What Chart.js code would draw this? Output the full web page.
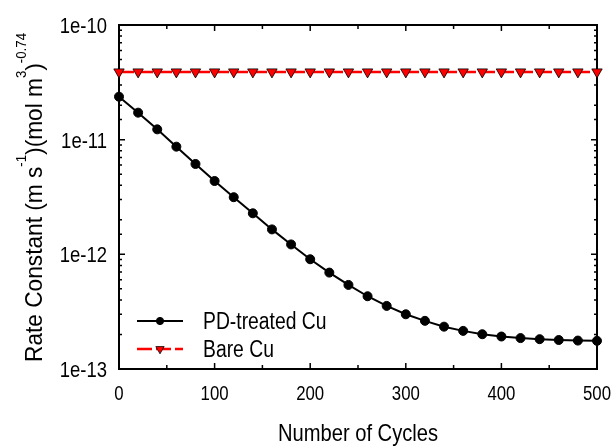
<!DOCTYPE html>
<html>
<head>
<meta charset="utf-8">
<script src="https://cdn.jsdelivr.net/npm/chart.js@4/dist/chart.umd.min.js"></script>
<style>
  html, body { margin: 0; padding: 0; background: #fff; }
  #wrap { width: 611px; height: 446px; }
</style>
</head>
<body>
<div id="wrap"><canvas id="c" width="611" height="446"></canvas></div>
<script>
// Cycle numbers where the rate constant was evaluated
const cycles = [0, 20, 40, 60, 80, 100, 120, 140, 160, 180, 200, 220, 240,
                260, 280, 300, 320, 340, 360, 380, 400, 420, 440, 460, 480, 500];

// Rate constant for the PD-treated copper surface
const pdTreated = [2.37e-11, 1.72e-11, 1.23e-11, 8.69e-12, 6.14e-12, 4.36e-12,
                   3.15e-12, 2.28e-12, 1.65e-12, 1.22e-12, 9.06e-13, 6.93e-13,
                   5.41e-13, 4.31e-13, 3.55e-13, 3.00e-13, 2.63e-13, 2.34e-13,
                   2.15e-13, 2.01e-13, 1.92e-13, 1.86e-13, 1.82e-13, 1.79e-13,
                   1.77e-13, 1.76e-13];

// Rate constant for bare copper (constant over cycling)
const bareCu = [3.9e-11, 3.9e-11, 3.9e-11, 3.9e-11, 3.9e-11, 3.9e-11, 3.9e-11,
                3.9e-11, 3.9e-11, 3.9e-11, 3.9e-11, 3.9e-11, 3.9e-11, 3.9e-11,
                3.9e-11, 3.9e-11, 3.9e-11, 3.9e-11, 3.9e-11, 3.9e-11, 3.9e-11,
                3.9e-11, 3.9e-11, 3.9e-11, 3.9e-11, 3.9e-11];

const seriesNames = ['PD-treated Cu', 'Bare Cu'];
const xLabelValues = [0, 100, 200, 300, 400, 500];
const yLabelValues = [1e-13, 1e-12, 1e-11, 1e-10];

const FONT = '"Liberation Sans", Arial, sans-serif';
const NARROW = 0.84;   // horizontal squeeze giving a narrow-sans look

function isDecade(v) {
  const l = Math.log10(v);
  return Math.abs(l - Math.round(l)) < 1e-6;
}
function xLabel(v) { return xLabelValues.includes(v) ? String(v) : ''; }
function yLabel(v) {
  const hit = yLabelValues.find(d => Math.abs(v - d) / d < 1e-6);
  return hit ? '1e' + Math.round(Math.log10(hit)) : '';
}

// Draw text squeezed horizontally around its anchor point
function narrowText(ctx, txt, x, y, align, size) {
  ctx.save();
  ctx.font = size + 'px ' + FONT;
  ctx.textAlign = align;
  ctx.textBaseline = 'alphabetic';
  ctx.translate(x, y);
  ctx.scale(NARROW, 1);
  ctx.fillText(txt, 0, 0);
  ctx.restore();
}

// Boxed frame with inward tick marks on all four sides, plus tick labels
const frameAndTicks = {
  id: 'frameAndTicks',
  beforeDatasetsDraw(chart) {
    const { ctx, chartArea: a, scales: { x, y } } = chart;
    ctx.save();
    ctx.strokeStyle = '#000';
    ctx.lineWidth = 1.5;
    ctx.beginPath();
    x.ticks.forEach(t => {
      const px = x.getPixelForValue(t.value);
      const len = t.value % 100 === 0 ? 6 : 4;
      ctx.moveTo(px, a.bottom); ctx.lineTo(px, a.bottom - len);
      ctx.moveTo(px, a.top); ctx.lineTo(px, a.top + len);
    });
    y.ticks.forEach(t => {
      const py = y.getPixelForValue(t.value);
      const len = isDecade(t.value) ? 6 : 3;
      ctx.moveTo(a.left, py); ctx.lineTo(a.left + len, py);
      ctx.moveTo(a.right, py); ctx.lineTo(a.right - len, py);
    });
    ctx.stroke();
    ctx.lineWidth = 2;
    ctx.strokeRect(a.left, a.top, a.right - a.left, a.bottom - a.top);
    ctx.fillStyle = '#000';
    x.ticks.forEach(t => {
      const lbl = xLabel(t.value);
      if (lbl) narrowText(ctx, lbl, x.getPixelForValue(t.value), a.bottom + 31, 'center', 20);
    });
    y.ticks.forEach(t => {
      const lbl = yLabel(t.value);
      if (lbl) narrowText(ctx, lbl, a.left - 12, y.getPixelForValue(t.value) + 8, 'right', 22);
    });
    ctx.restore();
  }
};

// Axis titles, with superscripts on the y title
const axisTitles = {
  id: 'axisTitles',
  afterDraw(chart) {
    const { ctx, chartArea: a } = chart;
    ctx.save();
    ctx.fillStyle = '#000';
    narrowText(ctx, 'Number of Cycles', (a.left + a.right) / 2, 441, 'center', 24);

    const parts = [
      ['Rate Constant (m s', false], ['-1', true], [')(mol m', false],
      ['3', true], [')', false], ['-0.74', true]
    ];
    const fontFor = sup => (sup ? '14px ' : '24px ') + FONT;
    let total = 0;
    parts.forEach(([txt, sup]) => { ctx.font = fontFor(sup); total += ctx.measureText(txt).width; });
    const span = 329;
    ctx.translate(42, (a.top + a.bottom) / 2 + 0.5);
    ctx.rotate(-Math.PI / 2);
    ctx.scale(span / total, 1);
    ctx.textAlign = 'left';
    ctx.textBaseline = 'alphabetic';
    let cx = -total / 2;
    parts.forEach(([txt, sup]) => {
      ctx.font = fontFor(sup);
      ctx.fillText(txt, cx, sup ? -16 : 0);
      cx += ctx.measureText(txt).width;
    });
    ctx.restore();
  }
};

// Legend placed inside the lower-left corner of the plot
const insideLegend = {
  id: 'insideLegend',
  afterDatasetsDraw(chart) {
    const { ctx, chartArea: a } = chart;
    const rows = [a.bottom - 48, a.bottom - 20];
    ctx.save();
    chart.data.datasets.forEach((ds, i) => {
      const yy = rows[i];
      const x0 = a.left + 18, x1 = a.left + 64, xm = (x0 + x1) / 2;
      ctx.strokeStyle = ds.borderColor;
      ctx.lineWidth = ds.borderWidth;
      ctx.setLineDash(ds.borderDash || []);
      ctx.beginPath(); ctx.moveTo(x0, yy); ctx.lineTo(x1, yy); ctx.stroke();
      ctx.setLineDash([]);
      ctx.fillStyle = ds.pointBackgroundColor;
      ctx.strokeStyle = ds.pointBorderColor;
      ctx.lineWidth = ds.pointBorderWidth;
      Chart.helpers.drawPoint(ctx, {
        pointStyle: ds.pointStyle, rotation: ds.pointRotation || 0,
        radius: ds.pointRadius * 0.8, borderWidth: ds.pointBorderWidth
      }, xm, yy);
      ctx.fillStyle = '#000';
      narrowText(ctx, ds.label, a.left + 84, yy + 8, 'left', 23);
    });
    ctx.restore();
  }
};

new Chart(document.getElementById('c'), {
  type: 'line',
  data: {
    labels: cycles,
    datasets: [
      {
        label: seriesNames[0],
        data: cycles.map((c, i) => ({ x: c, y: pdTreated[i] })),
        borderColor: '#000', borderWidth: 2,
        pointStyle: 'circle', pointRadius: 4.5,
        pointBackgroundColor: '#000', pointBorderColor: '#000', pointBorderWidth: 1,
        tension: 0, clip: false
      },
      {
        label: seriesNames[1],
        data: cycles.map((c, i) => ({ x: c, y: bareCu[i] })),
        borderColor: '#ff0000', borderWidth: 2.5, borderDash: [15, 4],
        pointStyle: 'triangle', pointRotation: 180, pointRadius: 6,
        pointBackgroundColor: '#ff0000', pointBorderColor: '#000', pointBorderWidth: 0.8,
        tension: 0, clip: false
      }
    ]
  },
  options: {
    responsive: false,
    animation: false,
    devicePixelRatio: 1,
    layout: { padding: { top: 25, right: 14, left: 0, bottom: 0 } },
    plugins: { legend: { display: false }, tooltip: { enabled: false } },
    scales: {
      x: {
        type: 'linear', min: 0, max: 500,
        grid: { display: false, drawTicks: false },
        border: { display: false },
        ticks: { display: false, stepSize: 50, autoSkip: false, callback: xLabel },
        afterFit(s) { s.height = 77; s.paddingLeft = 0; s.paddingRight = 0; }
      },
      y: {
        type: 'logarithmic', min: 1e-13, max: 1e-10,
        grid: { display: false, drawTicks: false },
        border: { display: false },
        ticks: { display: false, autoSkip: false, callback: yLabel },
        afterFit(s) { s.width = 119; s.paddingTop = 0; s.paddingBottom = 0; }
      }
    }
  },
  plugins: [frameAndTicks, insideLegend, axisTitles]
});
</script>
</body>
</html>
